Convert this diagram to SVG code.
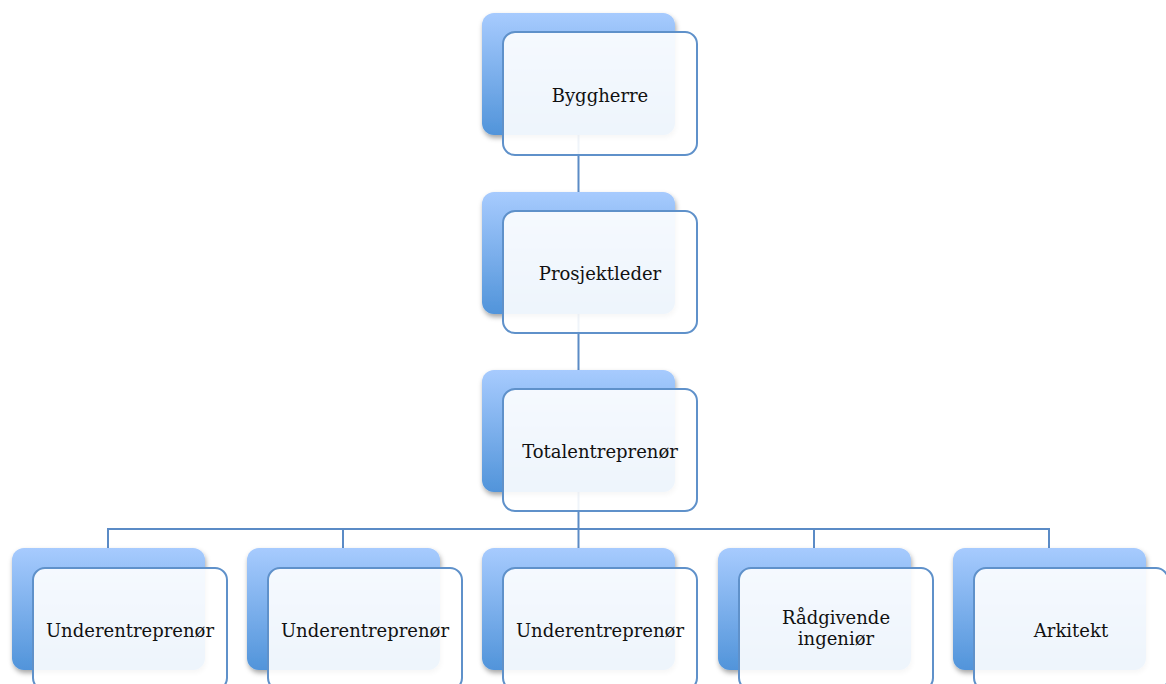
<svg xmlns="http://www.w3.org/2000/svg" width="1166" height="684" viewBox="0 0 1166 684">
  <defs>
    <linearGradient id="backFill" x1="0" y1="0" x2="0" y2="1">
      <stop offset="0" stop-color="#a7cbfe"/>
      <stop offset="1" stop-color="#5194da"/>
    </linearGradient>
    <filter id="softShadow" x="-10%" y="-10%" width="125%" height="130%">
      <feDropShadow dx="1" dy="3" stdDeviation="2.5" flood-color="#000" flood-opacity="0.35"/>
    </filter>
  </defs>
  <style>
    .back { fill: url(#backFill); filter: url(#softShadow); }
    .front { fill: #ffffff; fill-opacity: 0.9; stroke: #5f91ca; stroke-width: 2; }
    .conn { fill: none; stroke: #5b8bc6; stroke-width: 2; }
    .label { font-family: "DejaVu Serif", "Liberation Serif", serif; font-size: 18px; fill: #111; text-anchor: middle; }
  </style>

  <!-- connectors -->
  <g id="connectors">
    <line class="conn" x1="578.5" y1="100" x2="578.5" y2="530"/>
    <polyline class="conn" points="108,549 108,529 1049,529 1049,549"/>
    <line class="conn" x1="343" y1="529" x2="343" y2="549"/>
    <line class="conn" x1="578.5" y1="529" x2="578.5" y2="549"/>
    <line class="conn" x1="814" y1="529" x2="814" y2="549"/>
  </g>

  <g id="byggherre">
    <rect class="back" x="482" y="13" width="193" height="122" rx="12"/>
    <rect class="front" x="503" y="32" width="194" height="123" rx="12"/>
    <text class="label" x="600" y="102">Byggherre</text>
  </g>

  <g id="prosjektleder">
    <rect class="back" x="482" y="192" width="193" height="122" rx="12"/>
    <rect class="front" x="503" y="211" width="194" height="122" rx="12"/>
    <text class="label" x="600" y="280">Prosjektleder</text>
  </g>

  <g id="totalentreprenor">
    <rect class="back" x="482" y="370" width="193" height="122" rx="12"/>
    <rect class="front" x="503" y="389" width="194" height="122" rx="12"/>
    <text class="label" x="600" y="458">Totalentreprenør</text>
  </g>

  <g id="underentreprenor-1">
    <rect class="back" x="12" y="548" width="193" height="122" rx="12"/>
    <rect class="front" x="33" y="568" width="194" height="122" rx="12"/>
    <text class="label" x="130" y="637">Underentreprenør</text>
  </g>

  <g id="underentreprenor-2">
    <rect class="back" x="247" y="548" width="193" height="122" rx="12"/>
    <rect class="front" x="268" y="568" width="194" height="122" rx="12"/>
    <text class="label" x="365" y="637">Underentreprenør</text>
  </g>

  <g id="underentreprenor-3">
    <rect class="back" x="482" y="548" width="193" height="122" rx="12"/>
    <rect class="front" x="503" y="568" width="194" height="122" rx="12"/>
    <text class="label" x="600" y="637">Underentreprenør</text>
  </g>

  <g id="radgivende-ingenior">
    <rect class="back" x="718" y="548" width="193" height="122" rx="12"/>
    <rect class="front" x="739" y="568" width="194" height="122" rx="12"/>
    <text class="label" x="836" y="624">Rådgivende</text>
    <text class="label" x="836" y="645">ingeniør</text>
  </g>

  <g id="arkitekt">
    <rect class="back" x="953" y="548" width="193" height="122" rx="12"/>
    <rect class="front" x="974" y="568" width="194" height="122" rx="12"/>
    <text class="label" x="1071" y="637">Arkitekt</text>
  </g>
</svg>
